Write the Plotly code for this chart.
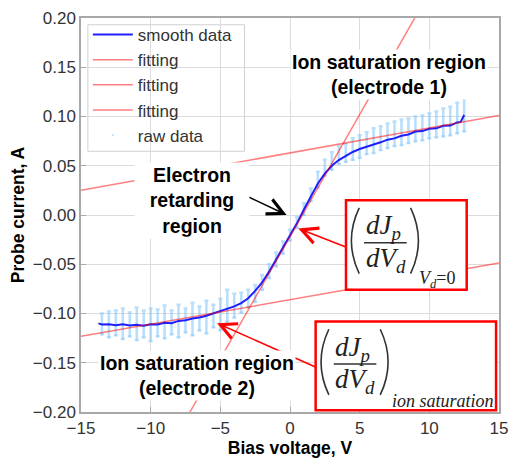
import plotly.graph_objects as go

# ---- smoothed probe characteristic --------------------------------------
smooth_v = [-13.75, -13.5, -13.0, -12.5, -12.0, -11.5, -11.0, -10.5, -10.0, -9.5,
            -9.0, -8.5, -8.0, -7.5, -7.0, -6.5, -6.0, -5.5, -5.0, -4.5,
            -4.0, -3.5, -3.0, -2.5, -2.0, -1.5, -1.0, -0.5, 0.0, 0.5,
            1.0, 1.5, 2.0, 2.5, 3.0, 3.5, 4.0, 4.5, 5.0, 5.5,
            6.0, 6.5, 7.0, 7.5, 8.0, 8.5, 9.0, 9.5, 10.0, 10.5,
            11.0, 11.5, 12.0, 12.25, 12.5]
smooth_i = [-0.1100, -0.1112, -0.1108, -0.1118, -0.1110, -0.1122, -0.1114, -0.1124, -0.1110, -0.1112,
            -0.1095, -0.1098, -0.1075, -0.1068, -0.1050, -0.1040, -0.1022, -0.0998, -0.0975, -0.0950,
            -0.0928, -0.0895, -0.0845, -0.0770, -0.0685, -0.0575, -0.0455, -0.0330, -0.0210, -0.0085,
            0.0055, 0.0195, 0.0320, 0.0420, 0.0500, 0.0558, 0.0600, 0.0640, 0.0670, 0.0690,
            0.0715, 0.0738, 0.0765, 0.0778, 0.0805, 0.0818, 0.0848, 0.0852, 0.0875, 0.0880,
            0.0905, 0.0908, 0.0940, 0.0945, 0.1015]

# ---- raw samples: each bias step gives a vertical cluster (min / max) ----
raw_v = [-13.5, -13.0, -12.5, -12.0, -11.5, -11.0, -10.5, -10.0, -9.5, -9.0,
         -8.5, -8.0, -7.5, -7.0, -6.5, -6.0, -5.5, -5.0, -4.5, -4.0,
         -3.5, -3.0, -2.5, -2.0, -1.5, -1.0, -0.5, 0.0, 0.5, 1.0,
         1.5, 2.0, 2.5, 3.0, 3.5, 4.0, 4.5, 5.0, 5.5, 6.0,
         6.5, 7.0, 7.5, 8.0, 8.5, 9.0, 9.5, 10.0, 10.5, 11.0,
         11.5, 12.0, 12.5]
raw_lo = [-0.121, -0.124, -0.122, -0.126, -0.123, -0.127, -0.124, -0.128, -0.123, -0.125,
          -0.121, -0.124, -0.119, -0.122, -0.117, -0.120, -0.114, -0.117, -0.108, -0.104,
          -0.099, -0.094, -0.088, -0.076, -0.064, -0.052, -0.039, -0.026, -0.013, 0.000,
          0.014, 0.028, 0.040, 0.046, 0.052, 0.054, 0.056, 0.058, 0.062, 0.063,
          0.066, 0.068, 0.070, 0.071, 0.073, 0.075, 0.076, 0.078, 0.079, 0.080,
          0.081, 0.083, 0.085]
raw_hi = [-0.100, -0.098, -0.097, -0.095, -0.099, -0.094, -0.097, -0.095, -0.096, -0.092,
          -0.097, -0.091, -0.095, -0.089, -0.093, -0.087, -0.091, -0.085, -0.076, -0.080,
          -0.079, -0.076, -0.071, -0.061, -0.050, -0.038, -0.027, -0.015, -0.002, 0.012,
          0.027, 0.044, 0.056, 0.064, 0.070, 0.072, 0.078, 0.081, 0.084, 0.088,
          0.090, 0.093, 0.095, 0.097, 0.098, 0.100, 0.101, 0.103, 0.105, 0.108,
          0.110, 0.114, 0.118]

# ---- linear fits: upper ion saturation, electron retarding, lower ion saturation
fit_intercept = [0.063, -0.022, -0.086]
fit_slope = [0.00253, 0.0248, 0.00248]
fit_span = [-15.0, 15.0]

x_ticks = [-15, -10, -5, 0, 5, 10, 15]
y_ticks = [-0.20, -0.15, -0.10, -0.05, 0.00, 0.05, 0.10, 0.15, 0.20]

# ---- figure geometry (pixels) -------------------------------------------
FIG_W, FIG_H = 517, 461
L, T, R, B = 81, 13, 9, 40
PW, PH = FIG_W - L - R, FIG_H - T - B


def paper(xp, yp):
    """Pixel position inside the page -> paper coordinates."""
    return (xp - L) / PW, 1 - (yp - T) / PH


SANS = "Arial, Liberation Sans, sans-serif"
SERIF = "Times New Roman, Liberation Serif, serif"
FIT_COLOR = "rgba(255,0,0,0.5)"
RAW_COLOR = "rgba(135,200,250,0.6)"

fig = go.Figure()

fig.add_trace(go.Scatter(
    x=raw_v, y=raw_lo, mode="markers", name="raw data", legendrank=5,
    marker=dict(size=2, color=RAW_COLOR),
    error_y=dict(type="data", symmetric=False,
                 array=[h - l for h, l in zip(raw_hi, raw_lo)],
                 arrayminus=[0] * len(raw_lo),
                 color=RAW_COLOR, thickness=2.5, width=2),
))

fig.add_trace(go.Scatter(
    x=smooth_v, y=smooth_i, mode="lines", name="smooth data", legendrank=1,
    line=dict(color="rgb(30,30,255)", width=2),
))

for k, (a, b) in enumerate(zip(fit_intercept, fit_slope)):
    fig.add_trace(go.Scatter(
        x=fit_span, y=[a + b * v for v in fit_span], mode="lines",
        name="fitting", legendrank=2 + k,
        line=dict(color=FIT_COLOR, width=1.5),
    ))

shapes = []
annotations = []

# legend frame
fx0, fy0 = paper(88, 20)
fx1, fy1 = paper(248, 151)
shapes.append(dict(type="rect", xref="paper", yref="paper", layer="between",
                   x0=fx0, y0=fy1, x1=fx1, y1=fy0,
                   line=dict(color="#d0d0d0", width=1), fillcolor="white"))


def arrow(tip, tail, color):
    tx, ty = paper(*tip)
    annotations.append(dict(
        xref="paper", yref="paper", x=tx, y=ty, text="",
        showarrow=True, axref="pixel", ayref="pixel",
        ax=tail[0] - tip[0], ay=tail[1] - tip[1],
        arrowhead=5, arrowsize=2.1, arrowwidth=1.5, arrowcolor=color,
    ))


def text_at(xp, yp, txt, size, family, xanchor="left", color="black"):
    px_, py_ = paper(xp, yp)
    annotations.append(dict(
        xref="paper", yref="paper", x=px_, y=py_, text=txt, showarrow=False,
        xanchor=xanchor, yanchor="middle", borderpad=0,
        font=dict(size=size, family=family, color=color),
    ))


def derivative_box(bl, bt, br, bb, subscript, sub_x, sub_y):
    """Framed (dJp/dVd) with a subscript, drawn from text and paths."""
    x0, y0 = paper(bl, bt)
    x1, y1 = paper(br, bb)
    shapes.append(dict(type="rect", xref="paper", yref="paper",
                       x0=x0, y0=y1, x1=x1, y1=y0,
                       line=dict(color="red", width=2.5), fillcolor="white"))

    def pth(points):
        s = ""
        for cmd, (xp, yp) in points:
            u, v = paper(bl + xp, bt + yp)
            s += f"{cmd}{u:.5f},{v:.5f} "
        return s

    # stretched parentheses
    for top, ctrl, bot in [((13.5, 8), (-2.5, 42), (13.5, 76)),
                           ((66, 8), (82, 42), (66, 76))]:
        shapes.append(dict(type="path", xref="paper", yref="paper",
                           path=pth([("M", top), ("Q", ctrl), ("", bot)]),
                           line=dict(color="#333333", width=1.6)))
    # fraction bar
    u0, v0 = paper(bl + 18.5, bt + 44)
    u1, _ = paper(bl + 62, bt + 44)
    shapes.append(dict(type="line", xref="paper", yref="paper",
                       x0=u0, y0=v0, x1=u1, y1=v0,
                       line=dict(color="#333333", width=1.5)))
    text_at(bl + 19, bt + 28, "<i>dJ<sub>p</sub></i>", 27, SERIF, color="#222222")
    text_at(bl + 19, bt + 62, "<i>dV<sub>d</sub></i>", 27, SERIF, color="#222222")
    text_at(bl + sub_x, bt + sub_y, subscript, 18, SERIF, color="#222222")


# arrows (placed first so that labels with a white background sit on top)
arrow((291, 217), (251, 198), "black")
arrow((303, 231), (352, 250), "red")
arrow((220, 329), (321, 374), "red")

derivative_box(351.7, 201.7, 475, 294.3, "<i>V<sub>d</sub></i>=0", 74, 82)
derivative_box(320.7, 327.3, 505, 419.3, "<i>ion saturation</i>", 77, 82)

label_font = dict(size=19.5, family=SANS, color="black")
for (xp, yp), txt, w in [((194, 201.5), "<b>Electron<br>retarding<br>region</b>", 112),
                         ((396, 72), "<b>Ion saturation region<br>(electrode 1)</b>", None),
                         ((200, 383), "<b>Ion saturation region<br>(electrode 2)</b>", None)]:
    u, v = paper(xp, yp)
    ann = dict(xref="paper", yref="paper", x=u, y=v, text=txt, showarrow=False,
               xanchor="center", yanchor="middle", align="center",
               bgcolor="white", borderpad=1, font=label_font)
    if w:
        ann["width"] = w
    annotations.append(ann)

lx, ly = paper(88, 12)

fig.update_layout(
    width=FIG_W, height=FIG_H,
    margin=dict(l=L, r=R, t=T, b=B, pad=0),
    paper_bgcolor="white", plot_bgcolor="white",
    font=dict(family=SANS, size=17, color="#333333"),
    showlegend=True,
    legend=dict(x=lx, y=ly, xanchor="left", yanchor="top",
                bgcolor="rgba(0,0,0,0)", borderwidth=0,
                font=dict(size=17, family=SANS, color="#333333"),
                itemwidth=40, tracegroupgap=0),
    shapes=shapes,
    annotations=annotations,
    xaxis=dict(range=[-15, 15], tickvals=x_ticks, showgrid=True, gridcolor="#dcdcdc",
               gridwidth=1, zeroline=False, showline=True, mirror=True,
               linecolor="#a8a8a8", linewidth=1.5, ticks="inside", ticklen=5,
               tickcolor="#a8a8a8",
               tickfont=dict(size=17, family=SANS, color="#333333"),
               title=dict(text="<b>Bias voltage, V</b>", standoff=2,
                          font=dict(size=17.5, family=SANS, color="black"))),
    yaxis=dict(range=[-0.2, 0.2], tickvals=y_ticks, tickformat=".2f", showgrid=True,
               gridcolor="#dcdcdc", gridwidth=1, zeroline=False, showline=True,
               mirror=True, linecolor="#a8a8a8", linewidth=1.5, ticks="inside",
               ticklen=5, tickcolor="#a8a8a8",
               tickfont=dict(size=17, family=SANS, color="#333333"),
               title=dict(text="<b>Probe current, A</b>", standoff=4,
                          font=dict(size=17.5, family=SANS, color="black"))),
)

fig.write_html("out.html")
